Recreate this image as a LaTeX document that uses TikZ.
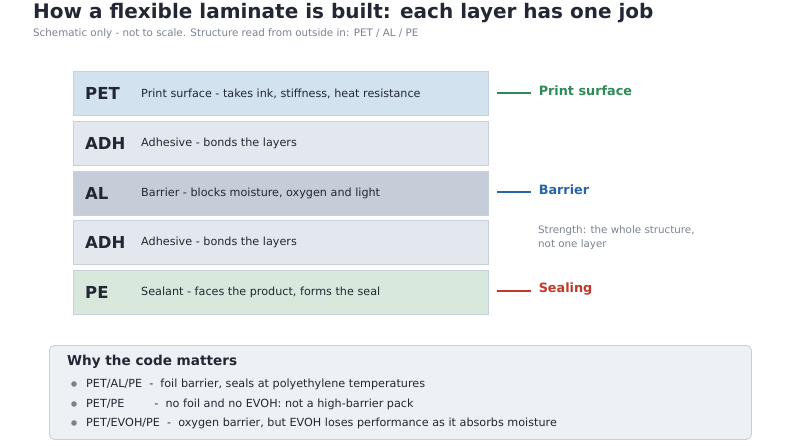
\documentclass[tikz,border=0pt]{standalone}
\usepackage{fontspec}
\setmainfont{DejaVu Sans}
\usetikzlibrary{positioning}
\definecolor{ink}{HTML}{222733}
\definecolor{mute}{HTML}{7A8290}
\definecolor{edge}{HTML}{C8D0DC}
\definecolor{petfill}{HTML}{D2E2EF}
\definecolor{adhfill}{HTML}{E3E7EE}
\definecolor{alfill}{HTML}{C5CDD8}
\definecolor{pefill}{HTML}{D8E8DD}
\definecolor{boxfill}{HTML}{EDF0F5}
\definecolor{cgreen}{HTML}{2E8B57}
\definecolor{cblue}{HTML}{2A64A8}
\definecolor{cred}{HTML}{C0392B}
\tikzset{
  layer/.style={draw=edge, line width=0.9pt, minimum width=415pt, minimum height=44pt, anchor=north west, inner sep=0pt},
  code/.style={anchor=west, inner sep=0pt, font=\fontsize{16.5}{19}\selectfont\bfseries, text=ink},
  desc/.style={anchor=west, inner sep=0pt, font=\fontsize{11.2}{13}\selectfont, text=ink},
  tag/.style={anchor=west, inner sep=0pt, font=\fontsize{12.8}{15}\selectfont\bfseries},
  bullet/.style={anchor=west, inner sep=0pt, font=\fontsize{11.2}{13}\selectfont, text=ink},
}
\begin{document}
\begin{tikzpicture}[x=1pt,y=-1pt]
\useasboundingbox (0,0) rectangle (800,445);

% title
\node [anchor=west, font=\fontsize{20}{24}\selectfont\bfseries, text=ink, inner sep=0pt] (title) at (33,13) {How a flexible laminate is built: each layer has one job};
\node [anchor=west, font=\fontsize{10.3}{12}\selectfont, text=mute, inner sep=0pt] (sub) at (33,34) {Schematic only - not to scale. Structure read from outside in: PET / AL / PE};

% layers
\node [layer, fill=petfill] (pet) at (73,71) {};
\node [layer, fill=adhfill] (adh1) at (73,121) {};
\node [layer, fill=alfill] (al) at (73,171) {};
\node [layer, fill=adhfill] (adh2) at (73,220) {};
\node [layer, fill=pefill] (pe) at (73,270) {};

\node [code] at ([xshift=12pt]pet.west) {PET};
\node [desc] at ([xshift=68pt]pet.west) {Print surface - takes ink, stiffness, heat resistance};
\node [code] at ([xshift=12pt]adh1.west) {ADH};
\node [desc] at ([xshift=68pt]adh1.west) {Adhesive - bonds the layers};
\node [code] at ([xshift=12pt]al.west) {AL};
\node [desc] at ([xshift=68pt]al.west) {Barrier - blocks moisture, oxygen and light};
\node [code] at ([xshift=12pt]adh2.west) {ADH};
\node [desc] at ([xshift=68pt]adh2.west) {Adhesive - bonds the layers};
\node [code] at ([xshift=12pt]pe.west) {PE};
\node [desc] at ([xshift=68pt]pe.west) {Sealant - faces the product, forms the seal};

% roles
\coordinate (m1) at (497,93);
\coordinate (m2) at (497,192);
\coordinate (m3) at (497,291);
\draw [cgreen, line width=1.5pt] (m1) -- ++(34,0) node [tag, text=cgreen, xshift=7pt, yshift=2pt] (t1) {Print surface};
\draw [cblue, line width=1.5pt] (m2) -- ++(34,0) node [tag, text=cblue, xshift=7pt, yshift=2pt] (t2) {Barrier};
\draw [cred, line width=1.5pt] (m3) -- ++(34,0) node [tag, text=cred, xshift=7pt, yshift=2pt] (t3) {Sealing};
\node [anchor=north west, align=left, inner sep=0pt, font=\fontsize{10.3}{14.5}\selectfont, text=mute] (str) at (538,225) {Strength: the whole structure,\\not one layer};

% note box
\node [draw=edge, fill=boxfill, rounded corners=5pt, line width=0.9pt, anchor=north west, minimum width=702pt, minimum height=94pt] (note) at (49,345) {};
\node [anchor=west, inner sep=0pt, font=\fontsize{13.6}{16}\selectfont\bfseries, text=ink] (nt) at (67,362) {Why the code matters};
\foreach \y/\txt in {384/{PET/AL/PE \ -\ \ foil barrier, seals at polyethylene temperatures},
                     404/{PET/PE\hspace{30pt}-\ \ no foil and no EVOH: not a high-barrier pack},
                     423/{PET/EVOH/PE \ -\ \ oxygen barrier, but EVOH loses performance as it absorbs moisture}} {
  \fill [mute] (74,\y) circle (2.8pt);
  \node [bullet] at (86,\y) {\txt};
}
\end{tikzpicture}
\end{document}
